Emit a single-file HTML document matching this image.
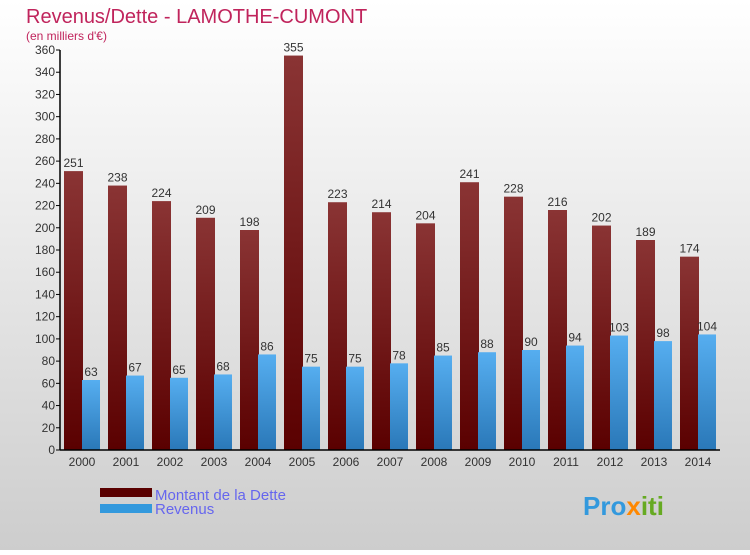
<!DOCTYPE html>
<html><head><meta charset="utf-8"><style>
html,body{margin:0;padding:0}
body{width:750px;height:550px;overflow:hidden;font-family:"Liberation Sans",sans-serif}
</style></head><body>
<svg id="chart" width="750" height="550" xmlns="http://www.w3.org/2000/svg">
<defs>
<linearGradient id="bg" x1="0" y1="0" x2="0" y2="1"><stop offset="0" stop-color="#ffffff"/><stop offset="1" stop-color="#cdcdcd"/></linearGradient>
<linearGradient id="gd" x1="0" y1="0" x2="0" y2="1"><stop offset="0" stop-color="#8a3434"/><stop offset="1" stop-color="#5a0000"/></linearGradient>
<linearGradient id="gr" x1="0" y1="0" x2="0" y2="1"><stop offset="0" stop-color="#56aef0"/><stop offset="1" stop-color="#2a78b8"/></linearGradient>
</defs>
<rect width="750" height="550" fill="url(#bg)"/>
<text x="26" y="23" font-size="20" fill="#c0245c">Revenus/Dette - LAMOTHE-CUMONT</text>
<text x="26" y="40" font-size="12" fill="#c0245c">(en milliers d'€)</text>
<g id="plot"></g>
<rect x="100" y="488" width="52" height="9" fill="#5a0000"/>
<text x="155" y="500" font-size="15" fill="#6666ee">Montant de la Dette</text>
<rect x="100" y="504" width="52" height="9" fill="#3399dd"/>
<text x="155" y="514" font-size="15" fill="#6666ee">Revenus</text>
<text x="583" y="515" font-size="26" font-weight="bold" fill="#3399dd">Pro<tspan fill="#ff8800">x</tspan><tspan fill="#66aa22">iti</tspan></text>
</svg>
<script>
const years=["2000","2001","2002","2003","2004","2005","2006","2007","2008","2009","2010","2011","2012","2013","2014"];
const dette=[251,238,224,209,198,355,223,214,204,241,228,216,202,189,174];
const revenus=[63,67,65,68,86,75,75,78,85,88,90,94,103,98,104];
const yTicks=[0,20,40,60,80,100,120,140,160,180,200,220,240,260,280,300,320,340,360];
const NS="http://www.w3.org/2000/svg";
const g=document.getElementById('plot');
const x0=60,x1=720,yTop=50,yBot=450,yMax=360;
const y=v=>yBot-(v/yMax)*(yBot-yTop);
const gw=(x1-x0)/years.length;
function mk(t,a){const e=document.createElementNS(NS,t);for(const k in a)e.setAttribute(k,a[k]);g.appendChild(e);return e;}
yTicks.forEach(v=>{
 const l=mk('line',{x1:x0-4,x2:x0,y1:y(v),y2:y(v),stroke:'#000'});
 
 
 const t=mk('text',{x:x0-5,y:y(v)+4,'text-anchor':'end','font-size':12,fill:'#333'});
 t.textContent=v;
 
 
});
years.forEach((yr,i)=>{
 const gx=x0+i*gw;
 const b1=mk('rect',{x:gx+4,y:y(dette[i]),width:19,height:yBot-y(dette[i]),fill:'url(#gd)'});
 
 
 const b2=mk('rect',{x:gx+22,y:y(revenus[i]),width:18,height:yBot-y(revenus[i]),fill:'url(#gr)'});
 
 
 const t1=mk('text',{x:gx+13.5,y:y(dette[i])-4,'text-anchor':'middle','font-size':12,fill:'#333'});
 t1.textContent=dette[i];
 
 
 const t2=mk('text',{x:gx+31,y:y(revenus[i])-4,'text-anchor':'middle','font-size':12,fill:'#333'});
 t2.textContent=revenus[i];
 
 
 const xl=mk('text',{x:gx+gw/2,y:466,'text-anchor':'middle','font-size':12,fill:'#333'});
 xl.textContent=yr;
 
 
});
const ya=mk('line',{x1:x0,x2:x0,y1:yTop,y2:yBot,stroke:'#000','stroke-width':1.5});


const xa=mk('line',{x1:x0,x2:x1,y1:yBot,y2:yBot,stroke:'#000','stroke-width':1.5});


</script>
</body></html>
